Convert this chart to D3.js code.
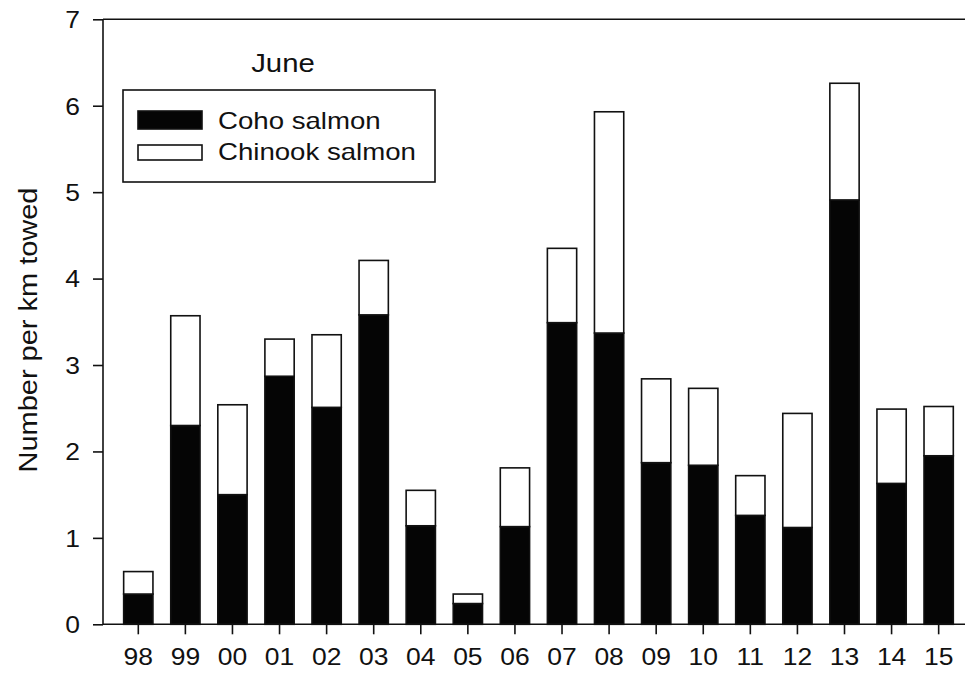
<!DOCTYPE html>
<html>
<head>
<meta charset="utf-8">
<script src="https://cdn.jsdelivr.net/npm/d3@7"></script>
<style>
  html, body { margin: 0; padding: 0; background: #fff; }
  svg { display: block; }
  text { font-family: "Liberation Sans", Arial, sans-serif; fill: #111; }
</style>
</head>
<body>
<svg id="chart" width="965" height="676"></svg>
<script>
// ---- data ----
const years = ["98","99","00","01","02","03","04","05","06","07","08","09","10","11","12","13","14","15"];
const coho = [0.35, 2.30, 1.50, 2.87, 2.51, 3.58, 1.14, 0.24, 1.13, 3.49, 3.37, 1.87, 1.84, 1.26, 1.12, 4.91, 1.63, 1.95];
const chinook = [0.26, 1.27, 1.04, 0.43, 0.84, 0.63, 0.41, 0.11, 0.68, 0.86, 2.56, 0.97, 0.89, 0.46, 1.32, 1.35, 0.86, 0.57];
const yTicks = [0, 1, 2, 3, 4, 5, 6, 7];
const seriesNames = ["Coho salmon", "Chinook salmon"];
const panelTitle = "June";
const yLabel = "Number per km towed";

(function () {
// ---- layout ----
const svg = d3.select("#chart");
const W = 965, H = 676;
const mLeft = 103, mTop = 19.3, mBottom = 624.3, mRight = 965;
const stretch = 1.15;
const fs = 23;

svg.append("rect").attr("width", W).attr("height", H).attr("fill", "#fff");

const x = d3.scaleBand().domain(years).range([114.76, 962.2]).paddingInner(0.378).paddingOuter(0.189);
const y = d3.scaleLinear().domain([0, 7]).range([mBottom, mTop]);

const rows = years.map((yr, i) => ({ yr, coho: coho[i], chinook: chinook[i] }));
const stack = d3.stack().keys(["coho", "chinook"])(rows);
const fills = { coho: "#050505", chinook: "#ffffff" };

const g = svg.append("g");
stack.forEach(layer => {
  g.append("g").selectAll("rect").data(layer).join("rect")
    .attr("x", d => x(d.data.yr))
    .attr("width", x.bandwidth())
    .attr("y", d => y(d[1]))
    .attr("height", d => y(d[0]) - y(d[1]))
    .attr("fill", fills[layer.key])
    .attr("stroke", "#111")
    .attr("stroke-width", 1.6);
});

// frame line at top
svg.append("line").attr("x1", mLeft).attr("x2", mRight).attr("y1", mTop).attr("y2", mTop).attr("stroke", "#111").attr("stroke-width", 1.6);

// y axis
const yAxis = svg.append("g").attr("transform", `translate(${mLeft},0)`)
  .call(d3.axisLeft(y).tickValues(yTicks).tickFormat(d3.format("d")).tickSize(10).tickPadding(13));
yAxis.select(".domain").attr("d", `M0,${mTop}V${mBottom}`).attr("stroke", "#111").attr("stroke-width", 1.6);
yAxis.selectAll(".tick line").attr("stroke", "#111").attr("stroke-width", 1.6);
yAxis.selectAll(".tick text").attr("font-size", fs).attr("font-family", "Liberation Sans, Arial, sans-serif").attr("fill", "#111").attr("dy", "0.36em");

// x axis
const xAxis = svg.append("g").attr("transform", `translate(0,${mBottom})`)
  .call(d3.axisBottom(x).tickSize(10).tickPadding(14));
xAxis.select(".domain").attr("d", `M${mLeft},0H${mRight}`).attr("stroke", "#111").attr("stroke-width", 1.6);
xAxis.selectAll(".tick line").attr("stroke", "#111").attr("stroke-width", 1.6);
xAxis.selectAll(".tick text").attr("font-size", fs).attr("font-family", "Liberation Sans, Arial, sans-serif").attr("fill", "#111").attr("dy", "0.71em");

// y label
svg.append("text")
  .attr("transform", "translate(37,330) rotate(-90)")
  .attr("text-anchor", "middle")
  .attr("font-size", 25)
  .attr("textLength", 285)
  .attr("lengthAdjust", "spacingAndGlyphs")
  .text(yLabel);

// title
svg.append("text").attr("x", 283).attr("y", 72).attr("text-anchor", "middle").attr("font-size", 25.5).text(panelTitle);

// legend
const leg = svg.append("g");
leg.append("rect").attr("x", 123).attr("y", 90).attr("width", 312).attr("height", 92)
  .attr("fill", "#fff").attr("stroke", "#111").attr("stroke-width", 1.6);
const legY = [111, 145];
seriesNames.forEach((name, i) => {
  const key = i === 0 ? "coho" : "chinook";
  leg.append("rect").attr("x", 138).attr("y", legY[i]).attr("width", 64).attr("height", i === 0 ? 18 : 15)
    .attr("fill", fills[key]).attr("stroke", "#111").attr("stroke-width", 1.6);
  leg.append("text").attr("x", 218).attr("y", [129, 160][i]).attr("font-size", 24).text(name);
});

// horizontal stretch of horizontal texts (reference text is wide)
svg.selectAll("text").each(function() {
  const t = d3.select(this);
  if ((t.attr("transform") || "").includes("rotate")) return;
  const w = this.getComputedTextLength();
  t.attr("textLength", w * stretch).attr("lengthAdjust", "spacingAndGlyphs");
});
})();
</script>
</body>
</html>
